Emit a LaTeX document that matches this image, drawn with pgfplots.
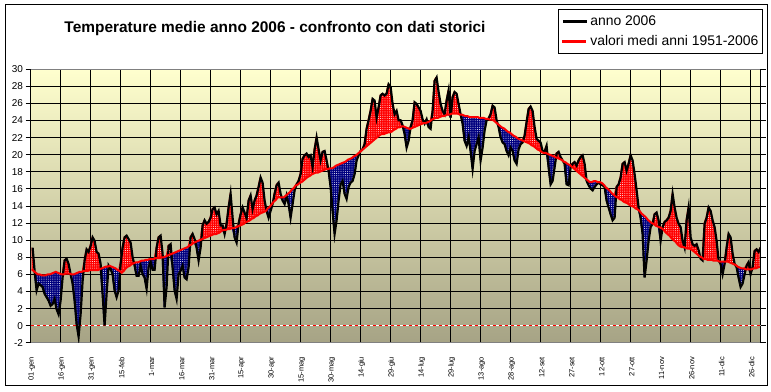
\documentclass[border=0pt]{standalone}
\usepackage{fontspec}
\setmainfont{Liberation Sans}
\usepackage{pgfplots}
\usepackage{pgfplotstable}
\pgfplotsset{compat=1.18}
\usepgfplotslibrary{fillbetween}
\usetikzlibrary{patterns.meta}
\definecolor{bgtop}{RGB}{255,255,206}
\definecolor{bgbot}{RGB}{166,163,133}
\definecolor{navyb}{RGB}{0,0,128}
\definecolor{framegray}{RGB}{128,128,128}

% t = anno 2006, m = valori medi 1951-2006 (one row per day)
\pgfplotstableread[row sep=\\]{t m\\
9.2 6.6\\ 6.5 6.4\\ 4.2 6.2\\ 5.0 6.0\\ 4.8 6.0\\ 4.6 5.9\\ 3.8 5.9\\ 3.4 5.9\\ 3.0 6.0\\ 2.4 6.0\\
2.6 6.1\\ 3.2 6.2\\ 2.0 6.3\\ 1.4 6.2\\ 3.0 6.1\\ 5.7 6.0\\ 7.7 6.0\\ 7.9 6.1\\ 7.3 6.1\\ 6.1 6.1\\
5.0 6.0\\ 3.0 6.0\\ 0.3 6.1\\ -1.2 6.2\\ 1.4 6.3\\ 5.3 6.3\\ 7.7 6.4\\ 9.0 6.4\\ 8.7 6.4\\ 9.4 6.5\\
10.4 6.5\\ 10.0 6.5\\ 8.7 6.5\\ 8.5 6.5\\ 7.3 6.6\\ 3.8 6.7\\ 0.1 6.8\\ 3.8 6.9\\ 7.1 6.9\\ 6.7 7.0\\
6.1 6.9\\ 4.2 6.8\\ 3.4 6.7\\ 4.2 6.5\\ 7.3 6.4\\ 9.2 6.2\\ 10.4 6.4\\ 10.6 6.7\\ 10.2 6.9\\ 9.8 7.0\\
8.1 7.2\\ 7.1 7.3\\ 5.9 7.4\\ 5.9 7.4\\ 7.1 7.5\\ 6.1 7.6\\ 5.7 7.6\\ 4.4 7.7\\ 6.9 7.7\\ 7.6 7.8\\
6.6 7.8\\ 6.6 7.8\\ 9.2 7.9\\ 10.4 7.9\\ 10.6 7.9\\ 8.5 8.0\\ 2.2 8.0\\ 4.6 8.1\\ 9.4 8.2\\ 9.6 8.3\\
6.9 8.4\\ 4.2 8.5\\ 3.2 8.6\\ 6.1 8.7\\ 6.5 8.8\\ 7.1 8.9\\ 5.7 9.0\\ 5.5 9.1\\ 6.9 9.2\\ 10.4 9.4\\
10.8 9.5\\ 10.2 9.7\\ 9.2 9.8\\ 7.7 9.9\\ 9.2 10.0\\ 11.8 10.1\\ 12.4 10.2\\ 12.0 10.3\\ 12.2 10.4\\ 12.7 10.5\\
13.7 10.6\\ 13.9 10.7\\ 13.1 10.7\\ 13.5 10.8\\ 11.8 10.9\\ 11.8 11.1\\ 10.8 11.2\\ 12.0 11.2\\ 13.9 11.3\\ 15.5 11.3\\
12.7 11.4\\ 10.4 11.4\\ 9.8 11.5\\ 12.0 11.6\\ 13.1 11.7\\ 13.9 11.8\\ 13.3 11.9\\ 12.6 12.1\\ 14.7 12.2\\ 15.3 12.3\\
13.7 12.5\\ 14.7 12.6\\ 15.3 12.8\\ 16.3 12.9\\ 17.4 13.1\\ 16.8 13.2\\ 14.7 13.3\\ 13.5 13.4\\ 12.7 13.7\\ 13.5 13.9\\
14.3 14.2\\ 15.5 14.5\\ 16.5 14.7\\ 16.8 15.0\\ 15.5 15.0\\ 14.7 15.0\\ 14.3 15.0\\ 15.3 15.2\\ 14.3 15.4\\ 12.7 15.6\\
14.3 15.9\\ 15.9 16.1\\ 16.6 16.4\\ 17.0 16.5\\ 17.8 16.7\\ 19.6 16.8\\ 20.0 17.0\\ 20.2 17.2\\ 19.8 17.4\\ 20.0 17.5\\
18.6 17.7\\ 20.7 17.8\\ 22.1 17.9\\ 20.7 17.9\\ 19.4 18.0\\ 20.4 18.1\\ 20.5 18.2\\ 19.4 18.3\\ 18.2 18.3\\ 16.3 18.4\\
13.5 18.4\\ 10.8 18.5\\ 12.4 18.7\\ 14.7 18.8\\ 16.6 18.9\\ 17.0 19.0\\ 15.5 19.1\\ 14.9 19.2\\ 16.3 19.4\\ 16.8 19.5\\
17.0 19.6\\ 17.8 19.8\\ 19.4 19.9\\ 20.0 20.1\\ 20.5 20.3\\ 20.7 20.5\\ 21.3 20.7\\ 23.1 20.9\\ 24.1 21.1\\ 25.2 21.3\\
26.6 21.5\\ 26.4 21.7\\ 24.4 21.9\\ 25.6 22.1\\ 27.0 22.3\\ 27.2 22.4\\ 27.0 22.4\\ 27.2 22.5\\ 28.3 22.6\\ 28.0 22.6\\
26.0 22.7\\ 24.8 22.9\\ 25.2 23.0\\ 24.1 23.2\\ 24.1 23.2\\ 23.5 23.3\\ 22.5 23.3\\ 20.9 23.2\\ 21.7 23.1\\ 23.3 23.0\\
24.1 23.1\\ 26.2 23.2\\ 26.0 23.3\\ 25.6 23.4\\ 25.2 23.5\\ 24.2 23.6\\ 23.7 23.7\\ 24.2 23.7\\ 23.3 23.8\\ 23.1 23.9\\
25.2 24.1\\ 28.7 24.2\\ 29.1 24.3\\ 27.4 24.3\\ 26.0 24.4\\ 25.2 24.5\\ 24.8 24.5\\ 26.4 24.6\\ 27.6 24.7\\ 24.4 24.7\\
26.8 24.8\\ 27.4 24.8\\ 27.2 24.8\\ 26.0 24.8\\ 24.8 24.7\\ 23.7 24.7\\ 21.7 24.6\\ 21.1 24.5\\ 22.1 24.5\\ 20.5 24.4\\
18.4 24.4\\ 20.5 24.4\\ 21.3 24.4\\ 22.1 24.4\\ 19.4 24.3\\ 20.9 24.3\\ 22.9 24.3\\ 24.1 24.2\\ 24.3 24.2\\ 24.8 24.1\\
25.8 24.1\\ 25.6 24.0\\ 24.1 23.8\\ 23.3 23.6\\ 22.1 23.4\\ 21.5 23.2\\ 21.3 23.1\\ 20.5 22.9\\ 20.0 22.7\\ 20.9 22.6\\
20.5 22.4\\ 19.4 22.2\\ 19.0 22.1\\ 20.7 21.9\\ 21.3 21.8\\ 21.5 21.7\\ 22.3 21.6\\ 23.9 21.5\\ 25.4 21.4\\ 25.7 21.3\\
25.2 21.1\\ 23.3 21.0\\ 21.9 20.8\\ 21.7 20.6\\ 21.5 20.5\\ 20.5 20.3\\ 20.4 20.2\\ 21.1 20.2\\ 18.6 20.1\\ 16.6 20.0\\
17.0 19.9\\ 18.6 19.8\\ 20.2 19.7\\ 20.4 19.6\\ 19.8 19.5\\ 19.4 19.4\\ 19.0 19.2\\ 16.6 19.1\\ 16.5 18.9\\ 18.6 18.8\\
19.0 18.6\\ 19.2 18.4\\ 18.8 18.2\\ 19.4 18.0\\ 19.8 17.8\\ 20.0 17.6\\ 19.0 17.4\\ 17.0 17.2\\ 16.5 17.0\\ 16.1 16.8\\
15.9 16.8\\ 16.3 16.9\\ 16.6 16.9\\ 16.8 16.8\\ 16.6 16.8\\ 16.5 16.7\\ 16.3 16.5\\ 14.7 16.2\\ 13.9 16.0\\ 13.1 15.8\\
12.4 15.5\\ 12.7 15.3\\ 16.3 15.1\\ 16.6 15.0\\ 17.4 14.8\\ 19.0 14.7\\ 19.2 14.5\\ 18.2 14.4\\ 19.0 14.3\\ 20.0 14.1\\
19.4 14.0\\ 17.8 13.9\\ 15.9 13.7\\ 13.9 13.6\\ 12.7 13.4\\ 10.8 13.1\\ 5.7 12.9\\ 7.7 12.7\\ 10.0 12.4\\ 11.6 12.2\\
12.0 12.0\\ 13.1 11.9\\ 13.3 11.7\\ 12.4 11.6\\ 10.0 11.5\\ 11.6 11.4\\ 12.2 11.2\\ 12.4 10.9\\ 12.7 10.7\\ 13.5 10.5\\
15.5 10.2\\ 13.9 10.0\\ 12.7 9.8\\ 12.0 9.5\\ 11.6 9.3\\ 10.0 9.2\\ 9.2 9.2\\ 12.4 9.1\\ 13.9 9.0\\ 10.4 9.0\\
9.6 8.9\\ 9.4 8.7\\ 9.6 8.5\\ 8.9 8.3\\ 7.9 8.1\\ 7.7 8.0\\ 12.0 7.8\\ 12.7 7.8\\ 13.9 7.7\\ 13.5 7.7\\
12.4 7.7\\ 11.6 7.6\\ 10.0 7.6\\ 7.7 7.6\\ 7.3 7.5\\ 6.1 7.5\\ 7.3 7.5\\ 9.2 7.5\\ 10.8 7.5\\ 10.4 7.4\\
8.5 7.3\\ 7.3 7.2\\ 6.9 7.1\\ 5.7 6.9\\ 4.6 6.8\\ 5.0 6.7\\ 6.1 6.7\\ 7.1 6.6\\ 7.5 6.6\\ 6.1 6.6\\
6.9 6.6\\ 8.8 6.7\\ 9.0 6.7\\ 8.7 6.8\\ 9.2 6.9\\
}\tdata

\begin{document}
\begin{tikzpicture}
\path (0bp,0bp) rectangle (771bp,-391bp);
\draw[black, line width=1bp] (5.5bp,-5bp) rectangle (767bp,-385.5bp);
\node[font=\bfseries\fontsize{15.5}{18}\selectfont] at (275bp,-28.5bp) {Temperature medie anno 2006 - confronto con dati storici};
\begin{axis}[
  at={(30.7bp,-342.8bp)}, anchor=south west,
  width=730bp, height=273.6bp, scale only axis,
  xmin=0, xmax=365, ymin=-2, ymax=30,
  axis background/.style={shade, top color=bgtop, bottom color=bgbot},
  separate axis lines,
  x axis line style={draw=framegray, line width=0.8bp},
  y axis line style={draw=black, line width=0.9bp},
  /pgf/number format/assume math mode=true,
  xtick={0.5,15.5,...,360.5},
  xticklabels={01-gen,16-gen,31-gen,15-feb,1-mar,16-mar,31-mar,15-apr,30-apr,15-mag,30-mag,14-giu,29-giu,14-lug,29-lug,13-ago,28-ago,12-set,27-set,12-ott,27-ott,11-nov,26-nov,11-dic,26-dic},
  xtick style={draw=none},
  xticklabel style={rotate=90, anchor=east, inner xsep=9bp, inner ysep=0pt, font=\fontsize{7.5}{9}\selectfont},
  extra x ticks={15,30,...,360},
  extra x tick labels={},
  extra x tick style={grid=major, xtick style={draw=none}},
  ytick={-2,0,...,30},
  tick align=outside,
  ytick style={draw=black, line width=0.8bp},
  major tick length=5bp,
  yticklabel style={font=\fontsize{10}{12}\selectfont, inner xsep=0bp, xshift=-2.5bp},
  extra y ticks={2,4,...,28},
  extra y tick labels={},
  extra y tick style={grid=major, ytick style={draw=none}},
  grid style={black, line width=0.9bp},
  legend style={at={(0.7223,1.22)}, anchor=north west, draw=black, line width=0.8bp,
    font=\fontsize{14}{16}\selectfont, inner xsep=2bp, inner ysep=4bp, row sep=5bp,
    cells={anchor=west}, fill=white},
  legend image code/.code={\draw[#1, line width=3bp] (0bp,0bp) -- (24bp,0bp);},
]
\addplot[white, line width=1.1bp, forget plot] coordinates {(0,0) (365,0)};
\addplot[red, dash pattern=on 3bp off 3bp, line width=1.1bp, forget plot] coordinates {(0,0) (365,0)};
\addplot[black, line width=2.2bp, xshift=0.9bp, yshift=-0.6bp, mark=none] table[x expr=\coordindex+0.5, y=t] {\tdata};
\addlegendentry{anno 2006}
\addplot[draw=none, name path=U, forget plot] table[x expr=\coordindex+0.5, y expr={max(\thisrow{t},\thisrow{m})}] {\tdata};
\addplot[draw=none, name path=L, forget plot] table[x expr=\coordindex+0.5, y expr={min(\thisrow{t},\thisrow{m})}] {\tdata};
\addplot[draw=none, name path=M, forget plot] table[x expr=\coordindex+0.5, y=m] {\tdata};
\addplot[fill=red, draw=none, forget plot, postaction={pattern={Dots[distance=2.2bp, radius=0.45bp]}, pattern color=white}] fill between[of=U and M];
\addplot[fill=navyb, draw=none, forget plot, postaction={pattern={Dots[distance=2.2bp, radius=0.45bp]}, pattern color=white}] fill between[of=M and L];
\addplot[red, line width=2bp, mark=none] table[x expr=\coordindex+0.5, y=m] {\tdata};
\addlegendentry{valori medi anni 1951-2006}
\end{axis}
\end{tikzpicture}
\end{document}
